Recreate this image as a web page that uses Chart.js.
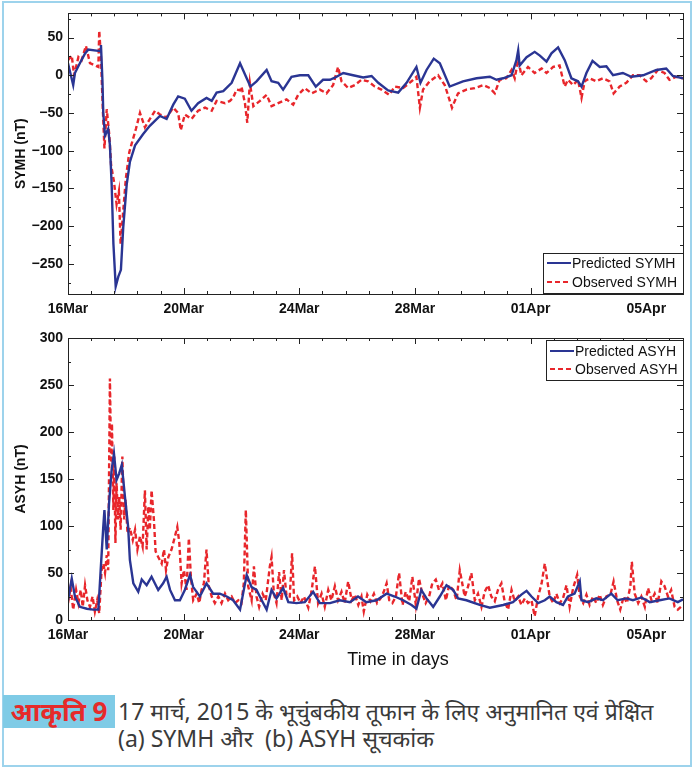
<!DOCTYPE html>
<html>
<head>
<meta charset="utf-8">
<script src="https://cdn.jsdelivr.net/npm/chart.js"></script>
<style>
  body { margin: 0; background: #fff; width: 694px; height: 769px; position: relative; overflow: hidden; }
  #frame { position: absolute; left: 2px; top: 1px; width: 686px; height: 762px; border: 2px solid #9dd3ec; }
  canvas { position: absolute; left: 0; }
  #c1 { top: 0; }
  #c2 { top: 320px; }
  #tag { position: absolute; left: 3px; top: 695px; width: 112px; height: 33px; background: #7fcbe6; color: #e62a2a;
         font: bold 26px "Noto Sans", "Noto Sans Devanagari", sans-serif; line-height: 33px; text-align: center; }
  #cap { position: absolute; left: 118px; top: 698px; font: 23px "Noto Sans", "Noto Sans Devanagari", sans-serif;
         color: #3a3a3a; line-height: 27px; white-space: nowrap; }
</style>
</head>
<body>
<div id="frame"></div>
<canvas id="c1" width="694" height="320"></canvas>
<canvas id="c2" width="694" height="360"></canvas>
<div id="tag">आकृति 9</div>
<div id="cap">17 मार्च, 2015 के भूचुंबकीय तूफान के लिए अनुमानित एवं प्रेक्षित<br>(a) SYMH और&nbsp; (b) ASYH सूचकांक</div>
<script>
// time axis: days after 16 Mar 2015 00:00
const xTickDays = [0, 4, 8, 12, 16, 20];
const xTickLabels = ['16Mar', '20Mar', '24Mar', '28Mar', '01Apr', '05Apr'];
const symhTicks = [-250, -200, -150, -100, -50, 0, 50];
const asyhTicks = [0, 50, 100, 150, 200, 250, 300];

const symhPredT = [0, 0.18, 0.24, 0.41, 0.59, 0.70, 1.11, 1.14, 1.19, 1.22, 1.28, 1.39, 1.45, 1.51, 1.57, 1.65, 1.74, 1.83, 1.91, 2.03,
  2.14, 2.32, 2.60, 2.83, 3.18, 3.41, 3.64, 3.81, 4.04, 4.27, 4.50, 4.79, 4.97, 5.14, 5.37, 5.66, 5.95, 6.18, 6.31, 6.52,
  6.87, 7.04, 7.27, 7.44, 7.73, 8.02, 8.31, 8.57, 8.82, 9.06, 9.29, 9.52, 9.86, 10.21, 10.50, 10.73, 11.07, 11.42, 11.71, 12.05,
  12.19, 12.40, 12.65, 12.86, 13.20, 13.66, 14.13, 14.59, 14.82, 15.05, 15.34, 15.51, 15.57, 15.62, 15.86, 16.14, 16.32, 16.55, 16.72, 16.95,
  17.18, 17.41, 17.64, 17.76, 17.93, 18.14, 18.39, 18.62, 18.85, 19.19, 19.48, 19.89, 20.35, 20.69, 20.92, 21.27];
const symhPredV = [16, -13, 3, 16, 29, 34, 32, 40, -6, -50, -80, -71, -93, -145, -223, -280, -267, -258, -202, -145,
  -115, -93, -78, -67, -54, -58, -39, -28, -31, -47, -37, -30, -34, -23, -21, -10, 16, -4, -15, -8,
  7, -8, -10, -19, -2, 0, 0, -15, -6, -6, -2, 3, 0, -3, -1, -10, -20, -23, -10, 11,
  -10, 7, 22, 16, -15, -8, -4, -2, -6, -4, 0, 20, 33, 13, 24, 31, 26, 18, 29, 37,
  20, -4, -8, -15, 3, 19, 11, 12, 0, 3, -2, 0, 7, 9, -1, -4];

const symhObsT = [0, 0.13, 0.21, 0.36, 0.47, 0.62, 0.76, 0.93, 1.05, 1.08, 1.14, 1.20, 1.26, 1.34, 1.43, 1.49, 1.59, 1.68, 1.76, 1.82,
  1.91, 2.00, 2.12, 2.20, 2.35, 2.49, 2.66, 2.83, 3.01, 3.18, 3.41, 3.64, 3.81, 3.90, 4.04, 4.27, 4.50, 4.74, 4.97, 5.14,
  5.43, 5.60, 5.71, 5.83, 5.95, 6.00, 6.12, 6.20, 6.29, 6.41, 6.64, 6.87, 7.04, 7.27, 7.56, 7.79, 7.96, 8.19, 8.42, 8.71,
  8.94, 9.17, 9.34, 9.46, 9.69, 9.92, 10.15, 10.38, 10.61, 10.84, 11.11, 11.30, 11.59, 11.88, 12.05, 12.17, 12.28, 12.51, 12.80, 13.03,
  13.28, 13.49, 13.78, 14.07, 14.36, 14.59, 14.76, 14.93, 15.16, 15.34, 15.45, 15.57, 15.68, 15.91, 16.14, 16.38, 16.55, 16.78, 17.00, 17.18,
  17.29, 17.47, 17.64, 17.76, 17.87, 18.04, 18.27, 18.50, 18.73, 18.87, 19.08, 19.31, 19.54, 19.77, 20.00, 20.17, 20.40, 20.63, 20.80, 21.03, 21.27];
const symhObsV = [20, 26, 0, 24, 20, 39, 16, 13, 11, 59, 24, -41, -97, -45, -80, -119, -141, -171, -154, -224,
  -180, -137, -102, -91, -71, -50, -69, -58, -47, -52, -56, -43, -50, -73, -52, -58, -47, -43, -47, -34,
  -37, -34, -30, -19, -20, -15, -37, -63, -10, -41, -34, -26, -41, -37, -32, -39, -26, -17, -24, -19,
  -24, -13, 11, -8, -17, -13, -6, -8, -15, -19, -26, -15, -17, -8, -2, -43, -19, -8, 0, -13,
  -43, -24, -19, -17, -13, -17, -24, -6, -4, 7, -4, 21, 0, 11, 3, 9, 3, 11, 13, -15,
  -6, -13, -6, -30, -8, -4, -8, -4, -8, -24, -15, -10, 0, 0, -8, -4, 7, 3, -6, -2, -4];

const asyhPredT = [0, 0.13, 0.24, 0.41, 0.65, 0.87, 1.05, 1.13, 1.22, 1.26, 1.34, 1.42, 1.51, 1.59, 1.68, 1.77, 1.86, 1.97, 2.08, 2.14,
  2.26, 2.43, 2.55, 2.72, 2.89, 3.12, 3.29, 3.41, 3.53, 3.70, 3.87, 4.04, 4.22, 4.33, 4.56, 4.79, 5.02, 5.25, 5.49, 5.71,
  5.95, 6.18, 6.35, 6.52, 6.70, 6.87, 7.04, 7.21, 7.44, 7.62, 7.90, 8.19, 8.48, 8.71, 9.06, 9.40, 9.75, 10.03, 10.32, 10.67,
  11.02, 11.30, 11.59, 11.88, 12.05, 12.22, 12.40, 12.63, 12.86, 13.09, 13.32, 13.49, 13.78, 14.24, 14.59, 15.05, 15.39, 15.68, 15.86, 16.03,
  16.26, 16.49, 16.66, 16.89, 17.12, 17.29, 17.52, 17.70, 17.76, 17.99, 18.27, 18.50, 18.79, 19.01, 19.31, 19.54, 19.83, 20.12, 20.46, 20.80,
  21.09, 21.27];
const asyhPredV = [21, 44, 25, 14, 12, 11, 11, 53, 99, 117, 75, 124, 160, 177, 149, 156, 165, 131, 99, 64,
  39, 30, 43, 37, 46, 32, 39, 46, 32, 21, 21, 32, 48, 35, 25, 39, 28, 28, 25, 21,
  11, 48, 35, 32, 21, 11, 32, 23, 34, 19, 18, 19, 30, 18, 18, 21, 19, 25, 19, 21,
  28, 25, 21, 16, 12, 32, 23, 14, 25, 37, 32, 23, 21, 16, 13, 16, 19, 27, 31, 25,
  18, 21, 25, 19, 16, 25, 28, 41, 21, 19, 23, 21, 28, 21, 23, 21, 24, 19, 21, 23,
  19, 22];

const asyhObsT = [0, 0.09, 0.18, 0.28, 0.36, 0.44, 0.51, 0.59, 0.67, 0.76, 0.85, 0.93, 1.01, 1.08, 1.16, 1.22, 1.28, 1.34, 1.39, 1.45,
  1.49, 1.52, 1.57, 1.60, 1.64, 1.68, 1.73, 1.77, 1.82, 1.88, 1.94, 1.99, 2.06, 2.14, 2.24, 2.32, 2.40, 2.49, 2.58, 2.66,
  2.72, 2.78, 2.83, 2.89, 2.97, 3.03, 3.12, 3.24, 3.32, 3.39, 3.47, 3.58, 3.70, 3.78, 3.85, 3.93, 4.01, 4.10, 4.18, 4.25,
  4.33, 4.45, 4.54, 4.62, 4.70, 4.79, 4.87, 4.97, 5.08, 5.20, 5.31, 5.43, 5.54, 5.66, 5.77, 5.89, 6.00, 6.08, 6.15, 6.23,
  6.35, 6.43, 6.52, 6.61, 6.73, 6.84, 6.98, 7.04, 7.12, 7.21, 7.30, 7.39, 7.47, 7.56, 7.67, 7.75, 7.82, 7.93, 8.04, 8.16,
  8.31, 8.42, 8.54, 8.65, 8.77, 8.88, 9.00, 9.11, 9.23, 9.34, 9.46, 9.57, 9.69, 9.81, 9.92, 10.04, 10.15, 10.23, 10.35, 10.46,
  10.58, 10.69, 10.81, 10.92, 11.02, 11.11, 11.22, 11.34, 11.45, 11.57, 11.68, 11.80, 11.91, 12.03, 12.14, 12.26, 12.37, 12.49, 12.60, 12.72,
  12.83, 12.95, 13.07, 13.18, 13.32, 13.44, 13.55, 13.72, 13.84, 13.95, 14.07, 14.18, 14.30, 14.41, 14.53, 14.64, 14.76, 14.87, 14.99, 15.10,
  15.22, 15.34, 15.45, 15.57, 15.68, 15.80, 15.91, 16.03, 16.14, 16.26, 16.38, 16.49, 16.57, 16.66, 16.78, 16.89, 17.01, 17.12, 17.24, 17.35,
  17.47, 17.61, 17.70, 17.82, 17.93, 18.04, 18.16, 18.27, 18.39, 18.50, 18.62, 18.76, 18.87, 18.99, 19.10, 19.22, 19.33, 19.45, 19.50, 19.60,
  19.72, 19.83, 19.95, 20.06, 20.18, 20.29, 20.40, 20.52, 20.63, 20.75, 20.86, 20.98, 21.09, 21.27];
const asyhObsV = [18, 35, 11, 32, 18, 32, 14, 37, 21, 14, 25, 9, 21, 7, 53, 60, 50, 69, 53, 257,
  167, 209, 117, 174, 82, 146, 107, 131, 96, 174, 107, 128, 92, 98, 85, 96, 75, 89, 78, 138,
  75, 121, 96, 138, 107, 73, 67, 60, 75, 53, 67, 75, 89, 99, 82, 39, 53, 32, 87, 46,
  21, 28, 18, 32, 39, 75, 36, 25, 18, 25, 18, 28, 21, 25, 18, 21, 18, 39, 117, 36,
  21, 57, 25, 14, 28, 21, 57, 67, 28, 18, 51, 21, 53, 25, 25, 71, 21, 25, 18, 25,
  13, 30, 57, 18, 28, 14, 32, 21, 36, 21, 30, 18, 41, 21, 27, 16, 25, 9, 27, 20,
  28, 18, 23, 30, 39, 21, 18, 25, 50, 16, 30, 20, 46, 16, 44, 27, 18, 25, 39, 43,
  32, 39, 21, 37, 32, 21, 53, 25, 36, 50, 21, 28, 14, 30, 37, 25, 20, 32, 39, 20,
  11, 32, 20, 25, 16, 23, 18, 21, 4, 25, 39, 60, 43, 25, 18, 28, 18, 23, 37, 14,
  34, 48, 25, 18, 27, 16, 25, 18, 27, 16, 25, 27, 41, 21, 11, 25, 18, 36, 62, 28,
  18, 25, 14, 34, 21, 28, 18, 41, 36, 25, 32, 14, 11, 16];

const zip = (t, v) => t.map((d, i) => ({ x: d, y: v[i] }));
const minus = s => String(s).replace('-', '\u2212');

// MATLAB-style box with inward ticks, legend and optional xlabel
const matlabAxes = {
  id: 'matlabAxes',
  afterDraw(chart, args, o) {
    const { ctx, chartArea: a, scales: { x, y } } = chart;
    ctx.save();
    ctx.strokeStyle = '#222';
    ctx.lineWidth = 1;
    ctx.beginPath();
    for (let i = 0; i * 0.8 <= x.max + 1e-6; i++) {
      const px = Math.round(x.getPixelForValue(i * 0.8)) + 0.5;
      const len = i % 5 === 0 ? 6 : 3;
      ctx.moveTo(px, a.bottom); ctx.lineTo(px, a.bottom - len);
      ctx.moveTo(px, a.top); ctx.lineTo(px, a.top + len);
    }
    for (let v = Math.ceil(y.min / 25) * 25; v <= y.max; v += 25) {
      const py = Math.round(y.getPixelForValue(v)) + 0.5;
      const len = v % 50 === 0 ? 6 : 3;
      ctx.moveTo(a.left, py); ctx.lineTo(a.left + len, py);
      ctx.moveTo(a.right, py); ctx.lineTo(a.right - len, py);
    }
    ctx.stroke();
    ctx.strokeRect(Math.round(a.left) + 0.5, Math.round(a.top) + 0.5, Math.round(a.right - a.left), Math.round(a.bottom - a.top));

    const lg = o.legend;
    ctx.fillStyle = '#fff';
    ctx.fillRect(lg.x, lg.y, lg.w, lg.h);
    ctx.strokeRect(lg.x + 0.5, lg.y + 0.5, lg.w, lg.h);
    ctx.font = '14px "Liberation Sans", Arial, sans-serif';
    ctx.textBaseline = 'middle';
    chart.data.datasets.forEach((ds, i) => {
      const ry = lg.y + lg.row0 + i * lg.gap;
      ctx.strokeStyle = ds.borderColor;
      ctx.lineWidth = 2;
      ctx.setLineDash(ds.borderDash || []);
      ctx.beginPath();
      ctx.moveTo(lg.x + 4, ry); ctx.lineTo(lg.x + 28, ry);
      ctx.stroke();
      ctx.setLineDash([]);
      ctx.fillStyle = '#111';
      ctx.fillText(ds.label, lg.x + 29, ry + 1);
    });

    if (o.xlabel) {
      ctx.font = '18px "Liberation Sans", Arial, sans-serif';
      ctx.fillStyle = '#111';
      ctx.textAlign = 'center';
      ctx.fillText(o.xlabel.text, o.xlabel.x, o.xlabel.y);
    }
    ctx.restore();
  }
};

function makeChart(id, cfg) {
  return new Chart(document.getElementById(id), {
    type: 'line',
    data: {
      datasets: [
        { label: cfg.names[0], data: cfg.pred, borderColor: '#2a3593', borderWidth: 2.4, pointRadius: 0, tension: 0 },
        { label: cfg.names[1], data: cfg.obs, borderColor: '#e8262b', borderWidth: 2.4, borderDash: [5, 3], pointRadius: 0, tension: 0 }
      ]
    },
    options: {
      responsive: false,
      animation: false,
      layout: { padding: { top: cfg.padTop, right: 11, left: 0, bottom: 0 } },
      plugins: { legend: { display: false }, tooltip: { enabled: false }, matlabAxes: cfg.box },
      scales: {
        x: {
          type: 'linear', min: 0, max: 21.27,
          grid: { display: false, drawTicks: false }, border: { display: false },
          afterFit: s => { s.height = cfg.xHeight; },
          afterBuildTicks: s => { s.ticks = xTickDays.map(v => ({ value: v })); },
          ticks: {
            padding: 7, maxRotation: 0, color: '#111',
            font: { family: '"Liberation Sans", Arial, sans-serif', size: 14, weight: 'bold' },
            callback: v => xTickLabels[xTickDays.indexOf(v)]
          }
        },
        y: {
          min: cfg.yMin, max: cfg.yMax,
          grid: { display: false, drawTicks: false }, border: { display: false },
          afterFit: s => { s.width = 68; },
          afterBuildTicks: s => { s.ticks = cfg.yTicks.map(v => ({ value: v })); },
          ticks: {
            padding: 5, color: '#111',
            font: { family: '"Liberation Sans", Arial, sans-serif', size: 14, weight: 'bold' },
            callback: v => minus(v)
          },
          title: {
            display: true, text: cfg.yTitle, color: '#111', padding: { top: 13, bottom: 0 },
            font: { family: '"Liberation Sans", Arial, sans-serif', size: 14, weight: 'bold' }
          }
        }
      }
    },
    plugins: [matlabAxes]
  });
}

makeChart('c1', {
  names: ['Predicted SYMH', 'Observed SYMH'],
  pred: zip(symhPredT, symhPredV), obs: zip(symhObsT, symhObsV),
  yMin: -290, yMax: 82, yTicks: symhTicks, yTitle: 'SYMH (nT)',
  padTop: 10, xHeight: 26,
  box: { legend: { x: 543, y: 253, w: 140, h: 40, row0: 10, gap: 19 } }
});

makeChart('c2', {
  names: ['Predicted ASYH', 'Observed ASYH'],
  pred: zip(asyhPredT, asyhPredV), obs: zip(asyhObsT, asyhObsV),
  yMin: 0, yMax: 300, yTicks: asyhTicks, yTitle: 'ASYH (nT)',
  padTop: 18, xHeight: 60,
  box: { legend: { x: 546, y: 20, w: 137, h: 40, row0: 11, gap: 18 }, xlabel: { text: 'Time in days', x: 398, y: 340 } }
});
</script>
</body>
</html>
